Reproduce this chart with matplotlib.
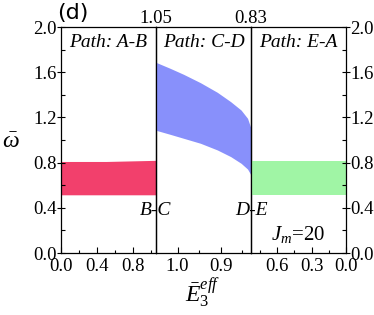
import numpy as np
import matplotlib as mpl
mpl.use('Agg')
import matplotlib.pyplot as plt

mpl.rcParams['font.family'] = 'Liberation Serif'
mpl.rcParams['mathtext.fontset'] = 'custom'
mpl.rcParams['mathtext.rm'] = 'Liberation Serif'
mpl.rcParams['mathtext.it'] = 'Liberation Serif:italic'
mpl.rcParams['mathtext.bf'] = 'Liberation Serif:bold'

# path A-B  (E3 goes 0 -> 1.05)
ab_x = [0.0, 0.5, 1.05]
ab_lo = [0.515, 0.515, 0.515]
ab_hi = [0.81, 0.81, 0.82]

# path C-D  (E3 goes 1.05 -> 0.83)
cd_x = [1.05, 1.017, 0.986, 0.947, 0.908, 0.877, 0.853, 0.838, 0.83]
cd_lo = [1.086, 1.050, 1.015, 0.971, 0.912, 0.853, 0.794, 0.743, 0.690]
cd_hi = [1.687, 1.634, 1.581, 1.507, 1.422, 1.339, 1.265, 1.192, 1.103]

# path E-A  (E3 goes 0.83 -> 0)
ea_x = [0.83, 0.4, 0.0]
ea_lo = [0.515, 0.515, 0.515]
ea_hi = [0.81, 0.81, 0.81]

fig = plt.figure(figsize=(3.74, 3.15), dpi=100)
L, R, B, T = 61/374, 346/374, 1 - 253/315, 1 - 27/315
w = (R - L) / 3
axes = [fig.add_axes([L + i*w, B, w, T - B]) for i in range(3)]
ax1, ax2, ax3 = axes

ax1.fill_between(ab_x, ab_lo, ab_hi, color='#f2406c', lw=0)
ax2.fill_between(cd_x, cd_lo, cd_hi, color='#8890fb', lw=0)
ax3.fill_between(ea_x, ea_lo, ea_hi, color='#a0f5a5', lw=0)

ax1.set_xlim(0, 1.05)
ax2.set_xlim(1.05, 0.83)
ax3.set_xlim(0.83, 0)

ax1.set_xticks([0.0, 0.4, 0.8])
ax1.set_xticks([0.2, 0.6, 1.0], minor=True)
ax2.set_xticks([1.0, 0.9])
ax2.set_xticks([0.95, 0.85], minor=True)
ax3.set_xticks([0.6, 0.3, 0.0])
ax3.set_xticks([0.75, 0.45, 0.15], minor=True)

FS = 13.5
for ax in axes:
    ax.set_facecolor('none')
    ax.set_ylim(0, 2.0)
    ax.set_yticks(np.arange(0, 2.01, 0.4))
    ax.set_yticks(np.arange(0.2, 2.0, 0.4), minor=True)
    ax.tick_params(axis='x', which='major', direction='in', length=4, width=0.8,
                   labelsize=FS, pad=3.5)
    ax.tick_params(axis='x', which='minor', direction='in', length=2.5, width=0.8)
    ax.tick_params(axis='y', left=False, right=False, labelleft=False,
                   which='both')
    ax.set_xticklabels([f'{v:.1f}' for v in ax.get_xticks()])
    for s in ax.spines.values():
        s.set_linewidth(0.9)

ax1.tick_params(axis='y', which='major', left=True, labelleft=True,
                direction='inout', length=6, width=0.8, labelsize=FS, pad=0)
ax1.tick_params(axis='y', which='minor', left=True, direction='in',
                length=3, width=0.8)
ax3.tick_params(axis='y', which='major', right=True, labelright=True,
                direction='inout', length=6, width=0.8, labelsize=FS, pad=0)
ax3.tick_params(axis='y', which='minor', right=True, direction='in',
                length=3, width=0.8)
ax1.set_yticklabels([f'{v:.1f}' for v in ax1.get_yticks()])
ax3.set_yticklabels([f'{v:.1f}' for v in ax3.get_yticks()])

for ax, lab in zip(axes, ['Path: A-B', 'Path: C-D', 'Path: E-A']):
    ax.text(0.5, 0.93, lab, transform=ax.transAxes, ha='center', va='center',
            fontsize=14, style='italic')

ax1.text(1.0, 1.0, '1.05', transform=ax1.transAxes, ha='center', va='bottom',
         fontsize=FS)
ax2.text(1.0, 1.0, '0.83', transform=ax2.transAxes, ha='center', va='bottom',
         fontsize=FS)
ax1.text(1.0, 0.19, 'B-C', transform=ax1.transAxes, ha='center', va='center',
         fontsize=14, style='italic')
ax2.text(1.0, 0.19, 'D-E', transform=ax2.transAxes, ha='center', va='center',
         fontsize=14, style='italic')
ax3.text(0.5, 0.08, r'$J_m$=20', transform=ax3.transAxes, ha='center',
         va='center', fontsize=15)

fig.text(57/374, 1 - 13/315, '(d)', family='DejaVu Sans', fontsize=16,
         ha='left', va='center')
fig.text(11/374, 1 - 143/315, r'$\bar{\omega}$', fontsize=17, ha='center',
         va='center')
fig.text(203/374, 1 - 293/315, r'$\bar{E}_3^{eff}$', fontsize=17,
         ha='center', va='center')

fig.savefig('out.png', dpi=100)
